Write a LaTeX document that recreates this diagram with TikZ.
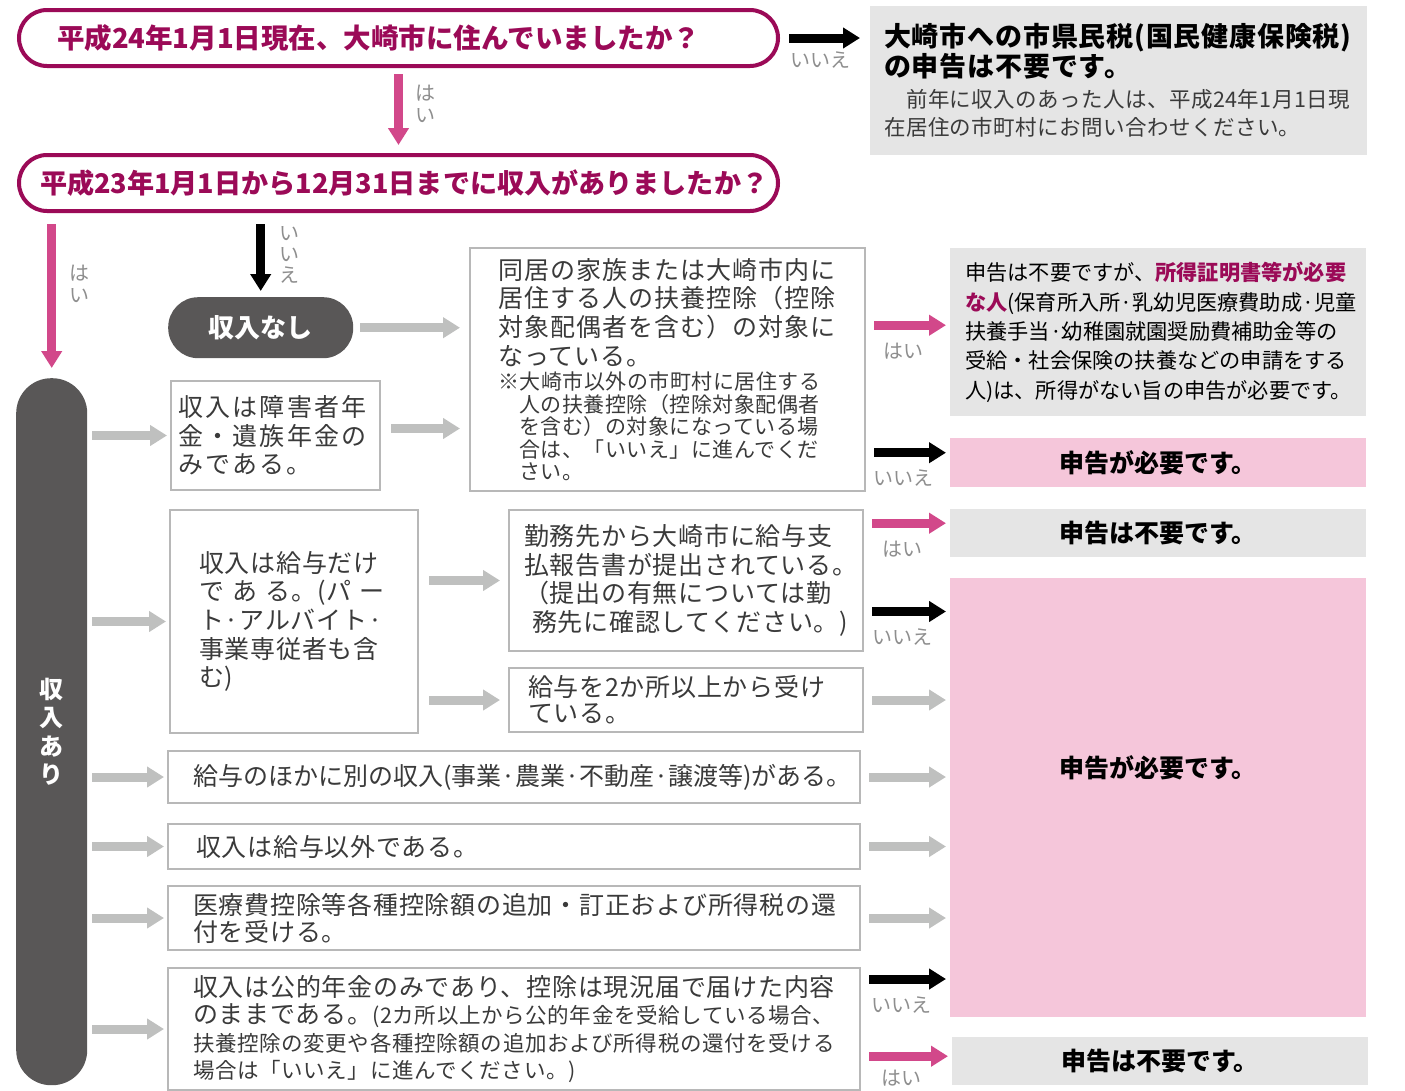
\documentclass[tikz,border=0pt]{standalone}
\usepackage{fontspec}
\setmainfont{Noto Sans CJK JP}
\usetikzlibrary{arrows.meta,calc}

\definecolor{wine}{HTML}{9B0A57}
\definecolor{hot}{HTML}{D2488A}
\definecolor{shade}{HTML}{E5E5E5}
\definecolor{blush}{HTML}{F5C6DA}
\definecolor{frame}{HTML}{B8B8B8}
\definecolor{pale}{HTML}{BFC0BF}
\definecolor{ink}{HTML}{3A3A3A}
\definecolor{slate}{HTML}{595757}
\definecolor{hint}{HTML}{8E8E8E}

\newcommand{\fsz}[2]{\fontsize{#1}{#2}\selectfont}

\tikzset{
  qpill/.style={draw=wine, line width=4pt, rounded corners=28pt, fill=white, text=wine,
    font=\fsz{27.5}{30}\bfseries, align=left, anchor=north west, inner ysep=0pt},
  darkpill/.style={fill=slate, text=white, font=\fsz{26}{28}\bfseries, anchor=north west, inner sep=0pt},
  qbox/.style={draw=frame, line width=2pt, text=ink, font=\fsz{25}{28.7}\addfontfeature{LetterSpace=3},
    align=left, anchor=north west, inner ysep=0pt},
  endbox/.style={fill=#1, text=black, font=\fsz{25}{28}\bfseries, anchor=north west,
    minimum width=416pt, inner sep=0pt},
  arr/.style={line width=9pt, -{Triangle[length=17pt,width=20pt]}, shorten <=8pt, shorten >=4pt},
  yesarr/.style={arr, draw=hot},
  noarr/.style={arr, draw=black},
  goarr/.style={arr, draw=pale},
  lbl/.style={text=hint, font=\fsz{20}{22}, inner sep=0pt, align=center}
}

\begin{document}
\begin{tikzpicture}[x=1pt,y=-1pt]
  \useasboundingbox (0,0) rectangle (1405,1090);

  % questions
  \node[qpill, minimum width=759pt, minimum height=56pt, inner xsep=38pt, text width=683pt] (q1) at (17,8)
    {平成24年1月1日現在、大崎市に住んでいましたか？};
  \node[qpill, minimum width=759pt, minimum height=56pt, inner xsep=21pt, text width=717pt,
    font=\fsz{27.1}{30}\bfseries] (q2) at (17,153)
    {平成23年1月1日から12月31日までに収入がありましたか？};
  \node[fill=shade, anchor=north west, minimum width=497pt, minimum height=149pt, inner xsep=14pt,
    inner ysep=0pt, text width=469pt, align=left] (nores) at (870,6)
    {{\fsz{27}{30}\bfseries\addfontfeature{LetterSpace=3}大崎市への市県民税(国民健康保険税)\\の申告は不要です。\par}\vspace{3pt}%
     {\fsz{21.5}{28}\color{ink}\addfontfeature{LetterSpace=2}　前年に収入のあった人は、平成24年1月1日現\\在居住の市町村にお問い合わせください。\par}};

  \node[darkpill, rounded corners=30pt, minimum width=185pt, minimum height=61pt] (nashi) at (168,297) {収入なし};
  \node[darkpill, rounded corners=35pt, minimum width=71pt, minimum height=707pt, align=center,
    font=\fsz{24}{28.5}\bfseries] (inc) at (16,378) {収\\入\\あ\\り};

  % middle boxes
  \node[qbox, minimum width=209pt, minimum height=109pt, inner xsep=7pt, text width=195pt] (shogai) at (170,380)
    {\addfontfeature{LetterSpace=9}収入は障害者年\\金・遺族年金の\\みである。};
  \node[qbox, minimum width=395pt, minimum height=243pt, inner xsep=28pt, text width=339pt] (dokyo) at (469,247)
    {\addfontfeature{LetterSpace=4}同居の家族または大崎市内に\\居住する人の扶養控除（控除\\対象配偶者を含む）の対象に\\なっている。\par\vspace{2pt}%
     {\fsz{21}{22.5}\addfontfeature{LetterSpace=2.5}※大崎市以外の市町村に居住する\\\hspace*{1em}人の扶養控除（控除対象配偶者\\\hspace*{1em}を含む）の対象になっている場\\\hspace*{1em}合は、「いいえ」に進んでくだ\\\hspace*{1em}さい。\par}};
  \node[qbox, minimum width=248pt, minimum height=223pt, inner xsep=29pt, text width=190pt] (kyuyo) at (169,509)
    {収入は給与だけ\\\makebox[180pt][s]{で あ る。(パ ー}\\ト·アルバイト·\\事業専従者も含\\む)};
  \node[qbox, minimum width=354pt, minimum height=141pt, inner xsep=15pt, text width=324pt] (kinmu) at (508,509)
    {勤務先から大崎市に給与支\\払報告書が提出されている。\\（提出の有無については勤\\\hspace*{8pt}務先に確認してください。)};
  \node[qbox, minimum width=354pt, minimum height=64pt, inner xsep=19pt, text width=316pt,
    font=\fsz{25}{26}\addfontfeature{LetterSpace=3}] (two) at (508,667)
    {給与を2か所以上から受け\\ている。};
  \node[qbox, minimum width=692pt, minimum height=52pt, inner xsep=25pt, text width=642pt,
    font=\fsz{25}{28.7}] (hoka) at (167,750)
    {給与のほかに別の収入(事業·農業·不動産·譲渡等)がある。};
  \node[qbox, minimum width=692pt, minimum height=45pt, inner xsep=28pt, text width=636pt] (igai) at (167,823)
    {収入は給与以外である。};
  \node[qbox, minimum width=692pt, minimum height=64pt, inner xsep=25pt, text width=642pt,
    font=\fsz{25}{27}\addfontfeature{LetterSpace=3}] (iryo) at (167,885)
    {医療費控除等各種控除額の追加・訂正および所得税の還\\付を受ける。};
  \node[qbox, minimum width=692pt, minimum height=122pt, inner xsep=25pt, text width=642pt,
    font=\fsz{25}{27.3}\addfontfeature{LetterSpace=3}] (nenkin) at (167,967)
    {収入は公的年金のみであり、控除は現況届で届けた内容\\のままである。{\fsz{21.5}{27.3}(2カ所以上から公的年金を受給している場合、}\\%
     {\fsz{21.5}{27.3}扶養控除の変更や各種控除額の追加および所得税の還付を受ける\\場合は「いいえ」に進んでください。)}};

  % results
  \node[fill=shade, anchor=north west, minimum width=416pt, minimum height=168pt, inner xsep=15pt, inner ysep=0pt,
    text width=386pt, align=left, font=\fsz{21.2}{29.3}] (r1) at (950,248)
    {申告は不要ですが、{\color{wine}\bfseries 所得証明書等が必要}\\{\color{wine}\bfseries な人}(保育所入所·乳幼児医療費助成·児童\\扶養手当·幼稚園就園奨励費補助金等の\\受給・社会保険の扶養などの申請をする\\人)は、所得がない旨の申告が必要です。};
  \node[endbox=blush, minimum height=49pt] (r2) at (950,438) {申告が必要です。};
  \node[endbox=shade, minimum height=48pt] (r3) at (950,509) {申告は不要です。};
  \node[endbox=blush, minimum height=439pt,
    label={[font=\fsz{25}{28}\bfseries, yshift=30pt]center:申告が必要です。}] (r4) at (950,578) {};
  \node[endbox=shade, minimum height=48pt] (r5) at (952,1037) {申告は不要です。};

  % arrows
  \draw[noarr, shorten <=9pt, shorten >=10pt] (q1.east) -- (q1.east -| nores.west)
    node[lbl, below=9pt, pos=0.45] {いいえ};
  \draw[yesarr, shorten <=6pt, shorten >=8pt] (q1.south) -- (q2.north)
    node[lbl, right=12pt, pos=0.42] {は\\い};
  \draw[yesarr, shorten <=11pt, shorten >=10pt] (q2.south -| inc.north) -- (inc.north)
    node[lbl, right=13pt, pos=0.43] {は\\い};
  \draw[noarr, shorten <=11pt, shorten >=6pt] (q2.south -| nashi.north) -- (nashi.north)
    node[lbl, right=14pt, pos=0.5, font=\fsz{20}{21}] {い\\い\\え};

  \draw[goarr, shorten <=7pt, shorten >=9pt] (nashi.east) -- (nashi.east -| dokyo.west);
  \foreach \b in {shogai,kyuyo,hoka,igai,iryo,nenkin}
    \draw[goarr, shorten <=5pt, shorten >=3pt] (inc.east |- \b.west) -- (\b.west);
  \draw[goarr, shorten <=10pt, shorten >=9pt] ($(shogai.east)+(0,-7)$) -- ($(shogai.east -| dokyo.west)+(0,-7)$);
  \draw[goarr, shorten <=10pt, shorten >=8pt] (kyuyo.east |- kinmu.west) -- (kinmu.west);
  \draw[goarr, shorten <=10pt, shorten >=8pt] (kyuyo.east |- two.west) -- (two.west);

  \draw[yesarr] ($(dokyo.east |- r1.west)+(0,-7)$) -- ($(r1.west)+(0,-7)$)
    node[lbl, below=13pt, pos=0.45] {はい};
  \draw[noarr] ($(dokyo.east |- r2.west)+(0,-10)$) -- ($(r2.west)+(0,-10)$)
    node[lbl, below=13pt, pos=0.45] {いいえ};
  \draw[yesarr] ($(kinmu.east |- r3.west)+(0,-10)$) -- ($(r3.west)+(0,-10)$)
    node[lbl, below=13pt, pos=0.45] {はい};
  \draw[noarr] ($(kinmu.east)+(0,31)$) -- ($(kinmu.east -| r4.west)+(0,31)$)
    node[lbl, below=13pt, pos=0.45] {いいえ};
  \foreach \b in {two,hoka,igai,iryo}
    \draw[goarr] (\b.east) -- (\b.east -| r4.west);
  \draw[noarr] ($(nenkin.east)+(0,-50)$) -- ($(nenkin.east -| r4.west)+(0,-50)$)
    node[lbl, below=13pt, pos=0.45] {いいえ};
  \draw[yesarr] ($(nenkin.east |- r5.west)+(0,-5)$) -- ($(r5.west)+(0,-5)$)
    node[lbl, below=9pt, pos=0.45] {はい};
\end{tikzpicture}
\end{document}
